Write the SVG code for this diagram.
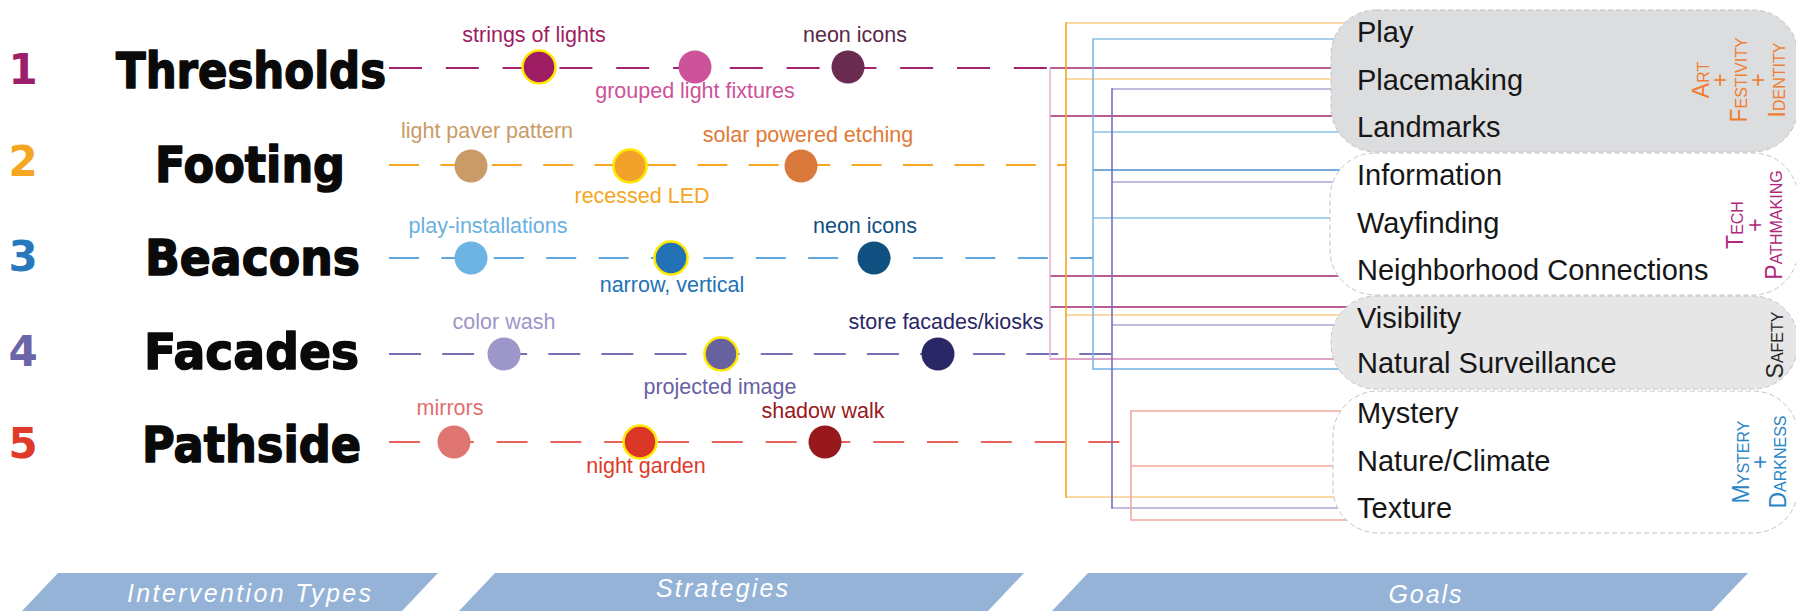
<svg xmlns="http://www.w3.org/2000/svg" width="1796" height="611" viewBox="0 0 1796 611">
<style>
text{font-family:"Liberation Sans",Arial,sans-serif}
.num{font-family:"DejaVu Sans",sans-serif;font-weight:bold;font-size:42px;text-anchor:middle}
.type{font-family:"DejaVu Sans",sans-serif;font-weight:bold;font-size:50px;fill:#0a0a0a;stroke:#0a0a0a;stroke-width:1.6;stroke-linejoin:round}
.lbl{font-size:21.5px;text-anchor:middle}
.goal{font-size:29px;fill:#161616}
.cat{font-size:23px;font-variant:small-caps;text-anchor:middle}
.ban{fill:#95b3d7}
.bant{font-size:25px;font-style:italic;fill:#ffffff;text-anchor:middle}
.dash{fill:none;stroke-width:2}
.bus{fill:none;stroke-width:1.6}
.hl{fill:none;stroke-width:1.5}
.ring{stroke:#ffe800;stroke-width:2.5}
.box{stroke:#c4c4c4;stroke-width:1;stroke-dasharray:5 3}
</style>

<g id="connectors">
  <line class="dash" x1="389" y1="68" x2="1048" y2="68" stroke="#a3246e" stroke-dasharray="33 23.8"/>
  <line class="dash" x1="389" y1="165" x2="1066" y2="165" stroke="#f5a623" stroke-dasharray="30 21.4"/>
  <line class="dash" x1="389" y1="258" x2="1093" y2="258" stroke="#5ea6dc" stroke-dasharray="30 22.4"/>
  <line class="dash" x1="389" y1="354" x2="1112" y2="354" stroke="#7771b8" stroke-dasharray="32 21.1"/>
  <line class="dash" x1="389" y1="442" x2="1120" y2="442" stroke="#e8645c" stroke-dasharray="31 22.8"/>
  <g stroke="#a3246e" class="hl">
    <line x1="1050" y1="68" x2="1365" y2="68"/>
    <line x1="1050" y1="116" x2="1365" y2="116"/>
    <line x1="1050" y1="276" x2="1365" y2="276"/>
    <line x1="1050" y1="307" x2="1365" y2="307"/>
  </g>
  <line class="hl" x1="1050" y1="359" x2="1365" y2="359" stroke="#d685b8"/>
  <line class="bus" x1="1050" y1="68" x2="1050" y2="359.7" stroke="#e3b5d3"/>
  <g stroke="#fbcb8c" class="hl">
    <line x1="1066" y1="23" x2="1365" y2="23"/>
    <line x1="1066" y1="79" x2="1365" y2="79"/>
    <line x1="1066" y1="315" x2="1365" y2="315"/>
    <line x1="1066" y1="497" x2="1365" y2="497"/>
  </g>
  <line class="bus" x1="1066" y1="22.3" x2="1066" y2="497.7" stroke="#f5a623"/>
  <g stroke="#8dc0e6" class="hl">
    <line x1="1093" y1="39" x2="1365" y2="39"/>
    <line x1="1093" y1="132" x2="1365" y2="132"/>
    <line x1="1093" y1="218" x2="1365" y2="218"/>
  </g>
  <line class="hl" x1="1093" y1="170" x2="1365" y2="170" stroke="#4a90d0"/>
  <line class="hl" x1="1093" y1="369" x2="1365" y2="369" stroke="#6fb0e2"/>
  <line class="bus" x1="1093" y1="38.3" x2="1093" y2="369.7" stroke="#7db7e3"/>
  <g stroke="#aba6d4" class="hl">
    <line x1="1112" y1="89" x2="1365" y2="89"/>
    <line x1="1112" y1="182" x2="1365" y2="182"/>
    <line x1="1112" y1="325" x2="1365" y2="325"/>
    <line x1="1112" y1="508" x2="1365" y2="508"/>
  </g>
  <line class="bus" x1="1112" y1="88.3" x2="1112" y2="508.7" stroke="#7570bd"/>
  <g stroke="#f4a8a0" class="hl">
    <line x1="1131" y1="411" x2="1365" y2="411"/>
    <line x1="1131" y1="466" x2="1365" y2="466"/>
    <line x1="1131" y1="520" x2="1365" y2="520"/>
  </g>
  <line class="bus" x1="1131" y1="410.3" x2="1131" y2="520.7" stroke="#f4a8a0"/>
</g>

<g id="type-thresholds">
  <text class="num" x="23" y="84" fill="#9b1f6a">1</text>
  <text class="type" x="116" y="88" textLength="270" lengthAdjust="spacingAndGlyphs">Thresholds</text>
</g>
<g id="type-footing">
  <text class="num" x="23" y="176" fill="#f5a623">2</text>
  <text class="type" x="155" y="182" textLength="190" lengthAdjust="spacingAndGlyphs">Footing</text>
</g>
<g id="type-beacons">
  <text class="num" x="23" y="271" fill="#2878be">3</text>
  <text class="type" x="145" y="275" textLength="215" lengthAdjust="spacingAndGlyphs">Beacons</text>
</g>
<g id="type-facades">
  <text class="num" x="23" y="366" fill="#6b64a8">4</text>
  <text class="type" x="144" y="369" textLength="215" lengthAdjust="spacingAndGlyphs">Facades</text>
</g>
<g id="type-pathside">
  <text class="num" x="23" y="458" fill="#e03a2a">5</text>
  <text class="type" x="142" y="462" textLength="219" lengthAdjust="spacingAndGlyphs">Pathside</text>
</g>

<g id="s-strings-of-lights"><circle class="ring" cx="539" cy="67" r="16.5" fill="#9e1d62"/><text class="lbl" x="534" y="42" fill="#9e1d62">strings of lights</text></g>
<g id="s-grouped-light-fixtures"><circle cx="695" cy="67" r="16.5" fill="#cc5299"/><text class="lbl" x="695" y="98" fill="#cc5299">grouped light fixtures</text></g>
<g id="s-neon-icons-1"><circle cx="848" cy="67" r="16.5" fill="#6a2c50"/><text class="lbl" x="855" y="42" fill="#5a2848">neon icons</text></g>

<g id="s-light-paver-pattern"><circle cx="471" cy="166" r="16.5" fill="#c99b66"/><text class="lbl" x="487" y="138" fill="#c99b66">light paver pattern</text></g>
<g id="s-recessed-led"><circle class="ring" cx="630" cy="166" r="16.5" fill="#f2a12b"/><text class="lbl" x="642" y="203" fill="#f5a623">recessed LED</text></g>
<g id="s-solar-powered-etching"><circle cx="801" cy="166" r="16.5" fill="#d9793b"/><text class="lbl" x="808" y="142" fill="#e07a35">solar powered etching</text></g>

<g id="s-play-installations"><circle cx="471" cy="258" r="16.5" fill="#6cb4e4"/><text class="lbl" x="488" y="233" fill="#6ab0e0">play-installations</text></g>
<g id="s-narrow-vertical"><circle class="ring" cx="671" cy="258" r="16.5" fill="#2272b5"/><text class="lbl" x="672" y="292" fill="#2272b5">narrow, vertical</text></g>
<g id="s-neon-icons-3"><circle cx="874" cy="258" r="16.5" fill="#0f5080"/><text class="lbl" x="865" y="233" fill="#0f5080">neon icons</text></g>

<g id="s-color-wash"><circle cx="504" cy="354" r="16.5" fill="#9c96c9"/><text class="lbl" x="504" y="329" fill="#9c96c9">color wash</text></g>
<g id="s-projected-image"><circle class="ring" cx="721" cy="354" r="16.5" fill="#67629f"/><text class="lbl" x="720" y="394" fill="#67629f">projected image</text></g>
<g id="s-store-facades"><circle cx="938" cy="354" r="16.5" fill="#2a2766"/><text class="lbl" x="946" y="329" fill="#2a2766">store facades/kiosks</text></g>

<g id="s-mirrors"><circle cx="454" cy="442" r="16.5" fill="#de7571"/><text class="lbl" x="450" y="415" fill="#e07070">mirrors</text></g>
<g id="s-night-garden"><circle class="ring" cx="640" cy="442" r="16.5" fill="#da3626"/><text class="lbl" x="646" y="473" fill="#e03a2a">night garden</text></g>
<g id="s-shadow-walk"><circle cx="825" cy="442" r="16.5" fill="#97191d"/><text class="lbl" x="823" y="418" fill="#97191d">shadow walk</text></g>

<g id="goal-art">
  <rect class="box" x="1331" y="10" width="467" height="142" rx="45" fill="#dcdddf"/>
  <text class="goal" x="1357" y="42">Play</text>
  <text class="goal" x="1357" y="90">Placemaking</text>
  <text class="goal" x="1357" y="137">Landmarks</text>
  <text class="cat" fill="#ef7d32" transform="translate(1709,80) rotate(-90)"><tspan x="0" y="0">Art</tspan><tspan x="0" y="19">+</tspan><tspan x="0" y="38">Festivity</tspan><tspan x="0" y="57">+</tspan><tspan x="0" y="76">Identity</tspan></text>
</g>
<g id="goal-tech">
  <rect class="box" x="1330" y="153" width="468" height="142" rx="45" fill="#ffffff"/>
  <text class="goal" x="1357" y="185">Information</text>
  <text class="goal" x="1357" y="233">Wayfinding</text>
  <text class="goal" x="1357" y="280">Neighborhood Connections</text>
  <text class="cat" fill="#b0287c" transform="translate(1743,225) rotate(-90)"><tspan x="0" y="0">Tech</tspan><tspan x="0" y="19.5">+</tspan><tspan x="0" y="39">Pathmaking</tspan></text>
</g>
<g id="goal-safety">
  <rect class="box" x="1331" y="296" width="467" height="93" rx="45" fill="#e6e6e7"/>
  <text class="goal" x="1357" y="328">Visibility</text>
  <text class="goal" x="1357" y="373">Natural Surveillance</text>
  <text class="cat" fill="#262626" transform="translate(1783,345) rotate(-90)">Safety</text>
</g>
<g id="goal-mystery">
  <rect class="box" x="1333" y="391" width="465" height="142" rx="45" fill="#ffffff"/>
  <text class="goal" x="1357" y="423">Mystery</text>
  <text class="goal" x="1357" y="471">Nature/Climate</text>
  <text class="goal" x="1357" y="518">Texture</text>
  <text class="cat" fill="#2a85c6" transform="translate(1749,462) rotate(-90)"><tspan x="0" y="0">Mystery</tspan><tspan x="0" y="18.5">+</tspan><tspan x="0" y="37">Darkness</tspan></text>
</g>

<g id="banner-types">
  <polygon class="ban" points="58,573 438,573 402,611 22,611"/>
  <text class="bant" x="249" y="602" textLength="244" lengthAdjust="spacing">Intervention Types</text>
</g>
<g id="banner-strategies">
  <polygon class="ban" points="495,573 1024,573 988,611 459,611"/>
  <text class="bant" x="722" y="597" textLength="132" lengthAdjust="spacing">Strategies</text>
</g>
<g id="banner-goals">
  <polygon class="ban" points="1088,573 1748,573 1712,611 1052,611"/>
  <text class="bant" x="1425" y="603" textLength="73" lengthAdjust="spacing">Goals</text>
</g>
</svg>
